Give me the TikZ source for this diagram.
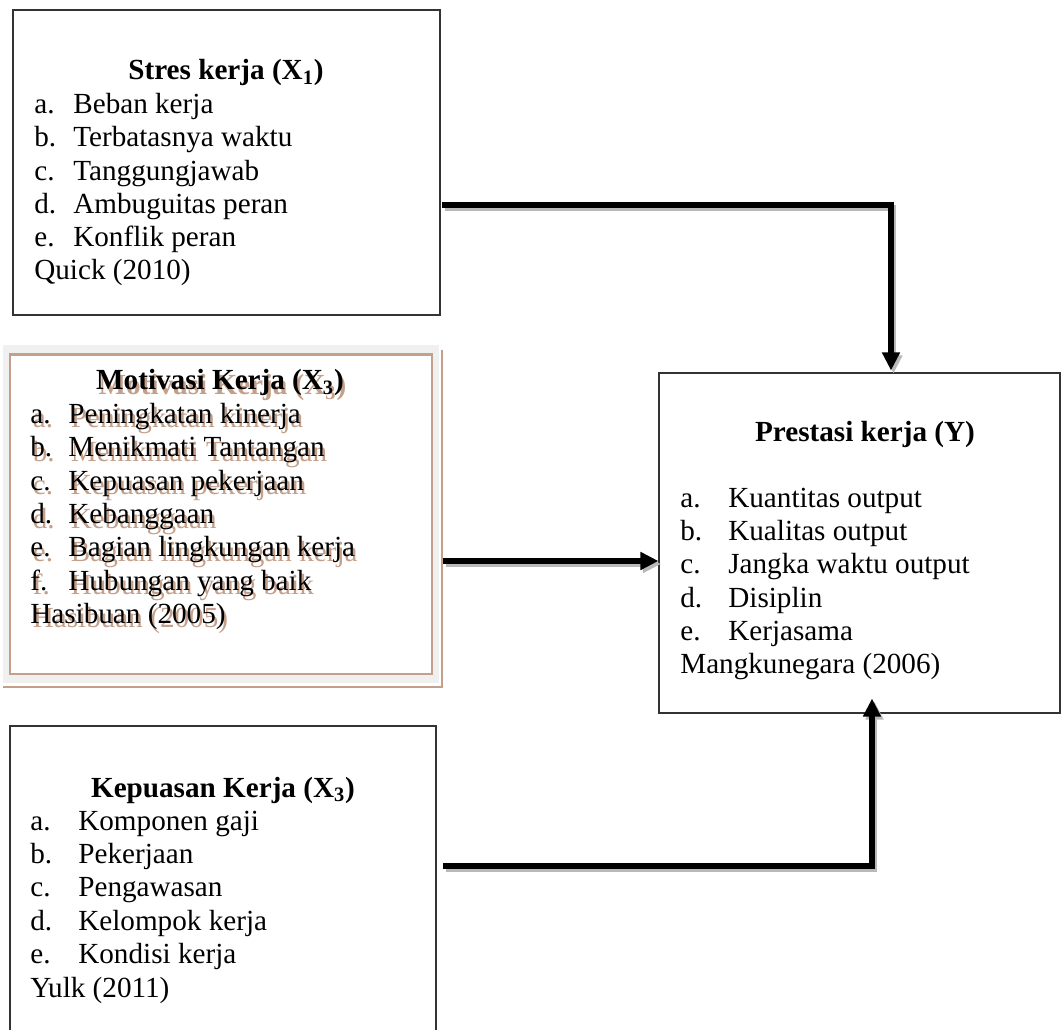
\documentclass[tikz,border=0pt]{standalone}
\usepackage{fontspec}
\setmainfont{Liberation Serif}
\usetikzlibrary{arrows.meta, calc, fit}
\definecolor{frametan}{RGB}{196,160,138}
\definecolor{framegray}{RGB}{240,240,240}
\tikzset{
  box/.style={draw=black!80, line width=0.6pt, inner sep=0pt},
  txt/.style={anchor=base west, inner sep=0pt, font=\fontsize{16.6}{20}\selectfont},
  ttl/.style={anchor=base, inner sep=0pt, font=\fontsize{16.6}{20}\selectfont\bfseries},
  conn/.style={line width=3pt, -{Triangle[length=0.36cm, width=0.34cm]},
    preaction={draw=gray!55, line width=3pt, transform canvas={shift={(2.5,3)}}}}
}

\begin{document}
\begin{tikzpicture}[x=0.02cm, y=-0.02cm]
    \clip (0,0) rectangle (1062,1030);

    % Stres kerja
    \node[box, fit={(13,10) (440,315)}] (stres) {};
    \node[ttl] (stresT) at (226,80) {Stres kerja (X\textsubscript{1})};
    \foreach \lb/\tx [count=\i] in {a./Beban kerja, b./Terbatasnya waktu, c./Tanggungjawab, d./Ambuguitas peran, e./Konflik peran} {
        \node[txt] (stresL\i) at (34,{80+33.4*\i}) {\lb};
        \node[txt] (stresI\i) at (73,{80+33.4*\i}) {\tx};
    }
    \node[txt] (stresR) at (34,280) {Quick (2010)};

    % Motivasi kerja (double frame with shadow)
    \fill[framegray] (3,345) rectangle (439,683);
    \draw[frametan, line width=1.5pt] (442,350) -- (442,687) -- (3,687);
    \node[box, fit={(10,355) (432,674)}, fill=white, draw=frametan] (motiv) {};
    \draw[frametan, line width=2pt] (motiv.north west) -- (motiv.north east);
    \node[ttl, frametan] (motivTs) at (222.5,394.5) {Motivasi Kerja (X\textsubscript{3})};
    \node[ttl] (motivT) at (220,390) {Motivasi Kerja (X\textsubscript{3})};
    \foreach \lb/\tx [count=\i] in {a./Peningkatan kinerja, b./Menikmati Tantangan, c./Kepuasan pekerjaan, d./Kebanggaan, e./Bagian lingkungan kerja, f./Hubungan yang baik} {
        \node[txt, frametan] (motivLs\i) at (32.5,{394.5+33.4*\i}) {\lb};
        \node[txt, frametan] (motivIs\i) at (70.5,{394.5+33.4*\i}) {\tx};
        \node[txt] (motivL\i) at (30,{390+33.4*\i}) {\lb};
        \node[txt] (motivI\i) at (68,{390+33.4*\i}) {\tx};
    }
    \node[txt, frametan] (motivRs) at (32.5,627.5) {Hasibuan (2005)};
    \node[txt] (motivR) at (30,623) {Hasibuan (2005)};

    % Prestasi kerja
    \node[box, fit={(659,373) (1060,713)}] (prestasi) {};
    \node[ttl] (prestasiT) at (865,442) {Prestasi kerja (Y)};
    \foreach \lb/\tx [count=\i] in {a./Kuantitas output, b./Kualitas output, c./Jangka waktu output, d./Disiplin, e./Kerjasama} {
        \node[txt] (prestasiL\i) at (680,{473.6+33.4*\i}) {\lb};
        \node[txt] (prestasiI\i) at (728,{473.6+33.4*\i}) {\tx};
    }
    \node[txt] (prestasiR) at (680,673) {Mangkunegara (2006)};

    % Kepuasan kerja
    \node[box, fit={(10,726) (436,1040)}] (puas) {};
    \node[ttl] (puasT) at (223,797) {Kepuasan Kerja (X\textsubscript{3})};
    \foreach \lb/\tx [count=\i] in {a./Komponen gaji, b./Pekerjaan, c./Pengawasan, d./Kelompok kerja, e./Kondisi kerja} {
        \node[txt] (puasL\i) at (30,{796.6+33.4*\i}) {\lb};
        \node[txt] (puasI\i) at (78,{796.6+33.4*\i}) {\tx};
    }
    \node[txt] (puasR) at (30,997) {Yulk (2011)};

    % hubungan antar variabel
    \coordinate (s1) at (442,205);
    \coordinate (p1) at ($(prestasi.north)+(31.5,-2)$);
    \draw[conn] (s1) -| (p1);

    \coordinate (m1) at (443,561);
    \draw[conn] (m1) -- (m1 -| prestasi.west);

    \coordinate (k1) at (443,866);
    \coordinate (p2) at ($(prestasi.south)+(12.5,-15)$);
    \draw[conn] (k1) -| (p2);
\end{tikzpicture}
\end{document}
